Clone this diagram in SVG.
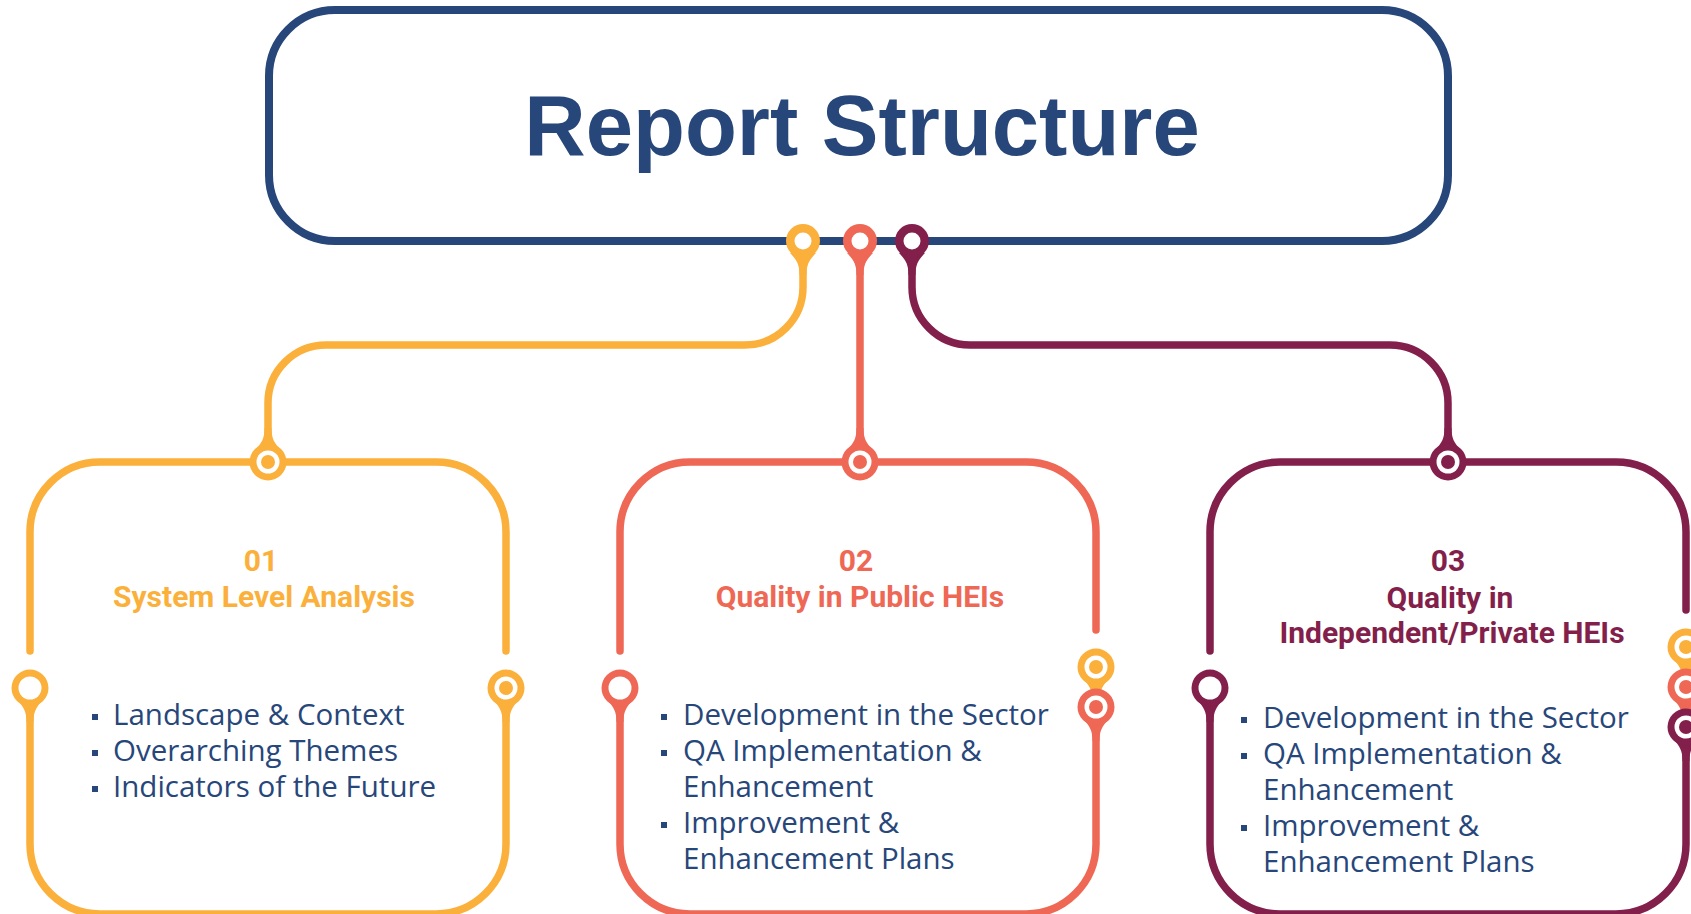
<svg xmlns="http://www.w3.org/2000/svg" xmlns:xlink="http://www.w3.org/1999/xlink" width="1691" height="914" viewBox="0 0 1691 914">
<style>
.line{fill:none;stroke-width:7.5;stroke-linecap:round}
.y{stroke:#FBB03B}.s{stroke:#EE6855}.m{stroke:#831F4B}.n{stroke:#27467A}
.fy{fill:#FBB03B;color:#FBB03B}.fs{fill:#EE6855;color:#EE6855}.fm{fill:#831F4B;color:#831F4B}
.title{font-family:"Liberation Sans",Arial,sans-serif;font-weight:700;font-size:85px;fill:#27467A}
.head{font-family:Roboto,"Liberation Sans",sans-serif;font-weight:700;font-size:30px;text-anchor:middle}
.item{font-family:"Open Sans","Liberation Sans",sans-serif;font-size:29.5px;fill:#27467A}
.bul{fill:#27467A}
</style>
<defs>
<path id="tailDown" d="M-13,12 C-6,19 -3.5,24 -3.5,34 H3.5 C3.5,24 6,19 13,12 Z" fill="currentColor"/>
<path id="tailUp" d="M-13,-12 C-6,-19 -3.5,-24 -3.5,-34 H3.5 C3.5,-24 6,-19 13,-12 Z" fill="currentColor"/>
<g id="hpin"><use xlink:href="#tailDown"/><circle r="17" fill="currentColor"/><circle r="8.5" fill="#fff"/></g>
<g id="ringDown"><use xlink:href="#tailDown"/><circle r="18.5" fill="currentColor"/><circle r="11.5" fill="#fff"/></g>
<g id="dotDown"><use xlink:href="#tailDown"/><circle r="18.5" fill="currentColor"/><circle r="11.5" fill="#fff"/><circle r="7" fill="currentColor"/></g>
<g id="dotUp"><use xlink:href="#tailUp"/><circle r="18.5" fill="currentColor"/><circle r="11.5" fill="#fff"/><circle r="7" fill="currentColor"/></g>
</defs>
<rect width="1691" height="914" fill="#fff"/>

<g id="header">
<rect x="269" y="10" width="1179" height="231" rx="66" ry="66" fill="#fff" stroke="#27467A" stroke-width="8"/>
<text class="title" x="862" y="155" text-anchor="middle">Report Structure</text>
</g>

<g id="connectors">
<path class="line y" d="M803,241 V287 A58,58 0 0 1 745,345 H326 A58,58 0 0 0 268,403 V462"/>
<path class="line s" d="M860,241 V462"/>
<path class="line m" d="M912,241 V287 A58,58 0 0 0 970,345 H1390 A58,58 0 0 1 1448,403 V462"/>
<use xlink:href="#hpin" class="fy" transform="translate(803,241)"/>
<use xlink:href="#hpin" class="fs" transform="translate(860,241)"/>
<use xlink:href="#hpin" class="fm" transform="translate(912,241)"/>
</g>

<g id="box1">
<path class="line y" d="M30,651 V532 A70,70 0 0 1 100,462 H436 A70,70 0 0 1 506,532 V651"/>
<path class="line y" d="M30,705 V844 A70,70 0 0 0 100,914 H436 A70,70 0 0 0 506,844 V705"/>
<use xlink:href="#dotUp" class="fy" transform="translate(268,462)"/>
<use xlink:href="#ringDown" class="fy" transform="translate(30,688)"/>
<use xlink:href="#dotDown" class="fy" transform="translate(506,688)"/>
<text class="head" fill="#FBB03B" x="261" y="571">01</text>
<text class="head" fill="#FBB03B" x="264" y="607">System Level Analysis</text>
<rect class="bul" x="92" y="714" width="6" height="6"/>
<rect class="bul" x="92" y="750" width="6" height="6"/>
<rect class="bul" x="92" y="786" width="6" height="6"/>
<text class="item" x="113" y="725">Landscape &amp; Context</text>
<text class="item" x="113" y="761">Overarching Themes</text>
<text class="item" x="113" y="797">Indicators of the Future</text>
</g>

<g id="box2">
<path class="line s" d="M620,651 V532 A70,70 0 0 1 690,462 H1026 A70,70 0 0 1 1096,532 V630"/>
<path class="line s" d="M620,705 V844 A70,70 0 0 0 690,914 H1026 A70,70 0 0 0 1096,844 V724"/>
<use xlink:href="#dotUp" class="fs" transform="translate(860,462)"/>
<use xlink:href="#ringDown" class="fs" transform="translate(620,688)"/>
<use xlink:href="#dotDown" class="fy" transform="translate(1096,667)"/>
<use xlink:href="#dotDown" class="fs" transform="translate(1096,707)"/>
<text class="head" fill="#EE6855" x="856" y="571">02</text>
<text class="head" fill="#EE6855" x="860" y="607">Quality in Public HEIs</text>
<rect class="bul" x="661" y="714" width="6" height="6"/>
<rect class="bul" x="661" y="750" width="6" height="6"/>
<rect class="bul" x="661" y="822" width="6" height="6"/>
<text class="item" x="683" y="725">Development in the Sector</text>
<text class="item" x="683" y="761">QA Implementation &amp;</text>
<text class="item" x="683" y="797">Enhancement</text>
<text class="item" x="683" y="833">Improvement &amp;</text>
<text class="item" x="683" y="869">Enhancement Plans</text>
</g>

<g id="box3">
<path class="line m" d="M1210,651 V532 A70,70 0 0 1 1280,462 H1616 A70,70 0 0 1 1686,532 V610"/>
<path class="line m" d="M1210,705 V844 A70,70 0 0 0 1280,914 H1616 A70,70 0 0 0 1686,844 V744"/>
<use xlink:href="#dotUp" class="fm" transform="translate(1448,462)"/>
<use xlink:href="#ringDown" class="fm" transform="translate(1210,688)"/>
<use xlink:href="#dotDown" class="fy" transform="translate(1686,647)"/>
<use xlink:href="#dotDown" class="fs" transform="translate(1686,687)"/>
<use xlink:href="#dotDown" class="fm" transform="translate(1686,727)"/>
<text class="head" fill="#831F4B" x="1448" y="571">03</text>
<text class="head" fill="#831F4B" x="1450" y="608">Quality in</text>
<text class="head" fill="#831F4B" x="1452" y="643">Independent/Private HEIs</text>
<rect class="bul" x="1241" y="717" width="6" height="6"/>
<rect class="bul" x="1241" y="753" width="6" height="6"/>
<rect class="bul" x="1241" y="825" width="6" height="6"/>
<text class="item" x="1263" y="728">Development in the Sector</text>
<text class="item" x="1263" y="764">QA Implementation &amp;</text>
<text class="item" x="1263" y="800">Enhancement</text>
<text class="item" x="1263" y="836">Improvement &amp;</text>
<text class="item" x="1263" y="872">Enhancement Plans</text>
</g>
</svg>
